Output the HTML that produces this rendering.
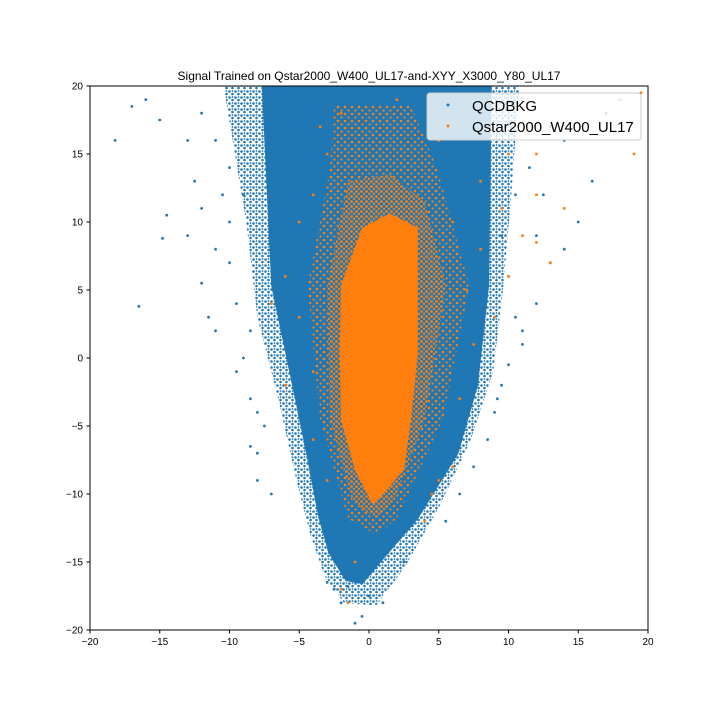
<!DOCTYPE html>
<html><head><meta charset="utf-8"><style>
body{margin:0;background:#fff}
svg{display:block;font-family:"Liberation Sans",sans-serif}
</style></head><body>
<svg id="chart" width="720" height="720" viewBox="0 0 720 720" xmlns="http://www.w3.org/2000/svg">
<rect width="720" height="720" fill="#fff"/>
<text x="369" y="80" text-anchor="middle" font-size="12">Signal Trained on Qstar2000_W400_UL17-and-XYY_X3000_Y80_UL17</text>
<defs>
<clipPath id="clip"><rect x="90" y="86" width="558" height="544"/></clipPath>
<pattern id="orangeSparse" width="7" height="7" patternUnits="userSpaceOnUse">
<rect width="7" height="7" fill="#1f77b4"/>
<circle cx="2" cy="2" r="1.3" fill="#ff7f0e"/>
<circle cx="5.5" cy="5.5" r="1.1" fill="#ff7f0e"/>
</pattern>
<pattern id="orangeDots" width="5" height="5" patternUnits="userSpaceOnUse">
<rect width="5" height="5" fill="#1f77b4"/>
<circle cx="1.5" cy="1.5" r="1.4" fill="#ff7f0e"/>
<circle cx="4" cy="3.8" r="1.2" fill="#ff7f0e"/>
</pattern>
<pattern id="blueDots" width="6" height="6" patternUnits="userSpaceOnUse">
<circle cx="1.5" cy="1.5" r="1.3" fill="#1f77b4"/>
<circle cx="4.5" cy="4" r="1.3" fill="#1f77b4"/>
<circle cx="4.5" cy="1" r="0.9" fill="#1f77b4"/>
</pattern>
</defs>
<g id="plot" clip-path="url(#clip)"></g>
<rect x="90" y="86" width="558" height="544" fill="none" stroke="#000" stroke-width="1"/>
<g id="axes"></g>
<g>
<rect x="427" y="93" width="214" height="47" rx="3" fill="#fff" fill-opacity="0.8" stroke="#ccc"/>
<circle cx="448" cy="105" r="1.5" fill="#1f77b4"/>
<text x="472" y="111" font-size="15">QCDBKG</text>
<circle cx="448" cy="126" r="1.5" fill="#ff7f0e"/>
<text x="472" y="132" font-size="15">Qstar2000_W400_UL17</text>
</g>
</svg>
<script>
const xTicks=[-20,-15,-10,-5,0,5,10,15,20];
const yTicks=[-20,-15,-10,-5,0,5,10,15,20];
// blue sparse outer envelope [x,y]
const bkgFuzz=[[-10.5,20.5],[-8.8,10],[-8,3],[-6.5,-3],[-5.2,-9],[-4.2,-13],[-3.2,-16],[-1.8,-18],[0.5,-18.2],[2.5,-15.5],[5,-11],[7.3,-6],[8.9,-1],[9.6,5],[10.2,12],[10.8,20.5]];
// blue dense envelope [x,y]
const bkgHull=[[-7.6,20.5],[-6.9,5.3],[-5.4,-2],[-4.4,-7],[-3.5,-11.8],[-2.8,-14.3],[-1.6,-16.3],[-0.5,-16.5],[1.3,-14.3],[3.4,-11.8],[6.3,-7],[7.7,-2],[8.5,5.3],[8.7,20.5]];
// orange sparse outer halo
const sigHalo=[[-2.5,18.6],[-2.8,13.9],[-4.4,5.3],[-3.5,-4.5],[-1.5,-11.8],[0.5,-13],[2,-11.8],[5.3,-4.5],[7.2,5.3],[4.9,13.9],[3,18.6]];
// orange medium inner halo
const sigMid=[[-1.5,13],[-3,5.3],[-2.8,-4.5],[-1.2,-10.5],[0.5,-11.8],[1.8,-10.5],[4,-4.5],[5.5,5.3],[4,11.5],[1.5,13.5]];
// orange dense core
const sigCore=[[-0.4,9.5],[-1.9,5.3],[-2.0,0.4],[-1.9,-4.5],[-0.9,-8.2],[-0.2,-9.6],[0.3,-10.6],[1.2,-9.6],[2.4,-8.2],[2.9,-4.5],[3.4,0.4],[3.4,5.3],[3.4,9.5],[1.5,10.5]];
const bkgX=[-18.2,-17,-16.5,-15,-14.5,-14.8,-13,-12,-12,-11.5,-11,-10,-10,-9.5,-9,-8.5,-8,-8,-7,-13,-12,-16,-11,-10.5,-9,-11,-10,-9.5,-8.5,-8.5,16,15,14,13,12,12,11,10.5,10,11.5,13,17,14,9.5,8.5,7.5,6.5,5.5,9.5,10,11,9,-2.5,-1,-0.5,1,-3,2.5,-2,0,-1.5,-8,-7.5,-12.5,12.5,10.5,9.2];
const bkgY=[16,18.5,3.8,17.5,10.5,8.8,9,11,5.5,3,2,7,14,4,0,-6.5,-7,-9,-10,16,18,19,16,12,12,8,10,-1,-3,2,13,10,8,7,9,4,2,12,6,14,17,18,16,-2,-6,-8,-10,-12,9,-0.5,1,-4,-17,-19.5,-19,-18,-16.5,-15,-18,-17.5,-16.8,-4,-5,13,12,3,-3];
const sigX=[19,19.5,18,12,12,11,12,13,10,9,8,-5,-4,-3,-7,-6,-4,-3,-1,-2,-1.5,6,5,4,7,6,5,-2,2,14,10,-5,-6,-4,6.5,7.5,8,9.5,-3.5,4.5];
const sigY=[15,19.5,19,15,12,9,8.5,7,6,3,13,10,12,15,4,-2,-6,-9,-15,-17,-18,-8,-9,-12,5,10,16,18,19,11,15,3,6,-1,-3,1,8,11,17,-10];
const X=v=>369+v*13.95, Y=v=>358-v*13.6;
const NS='http://www.w3.org/2000/svg';
const plot=document.getElementById('plot'), axes=document.getElementById('axes');
function mk(t,a,p){const e=document.createElementNS(NS,t);for(const k in a)e.setAttribute(k,a[k]);p.appendChild(e);return e;}
function poly(pts,fill,stroke,sw,name){
 const e=mk('polygon',{points:pts.map(p=>X(p[0])+','+Y(p[1])).join(' '),fill:fill,stroke:stroke,'stroke-width':sw,'stroke-linejoin':'round'},plot);
 
 
}
poly(bkgFuzz,'url(#blueDots)','none',0,'qcdbkg-sparse-region');
poly(bkgHull,'#1f77b4','#1f77b4',3,'qcdbkg-dense-region');
for(let i=0;i<bkgX.length;i++){
 const c=mk('circle',{cx:X(bkgX[i]),cy:Y(bkgY[i]),r:1.4,fill:'#1f77b4'},plot);
 
 
}
poly(sigHalo,'url(#orangeSparse)','none',0,'qstar-sparse-region');
poly(sigMid,'url(#orangeDots)','none',0,'qstar-medium-region');
poly(sigCore,'#ff7f0e','#ff7f0e',3,'qstar-dense-region');
for(let i=0;i<sigX.length;i++){
 const c=mk('circle',{cx:X(sigX[i]),cy:Y(sigY[i]),r:1.4,fill:'#ff7f0e'},plot);
 
 
}
xTicks.forEach(v=>{
 const l=mk('line',{x1:X(v),x2:X(v),y1:630,y2:633.5,stroke:'#000'},axes);
 
 
 const t=mk('text',{x:X(v),y:645,'text-anchor':'middle','font-size':10},axes);
 t.textContent=v<0?'\u2212'+(-v):v;
 
 
});
yTicks.forEach(v=>{
 const l=mk('line',{x1:86.5,x2:90,y1:Y(v),y2:Y(v),stroke:'#000'},axes);
 
 
 const t=mk('text',{x:83,y:Y(v)+3.5,'text-anchor':'end','font-size':10},axes);
 t.textContent=v<0?'\u2212'+(-v):v;
 
 
});
</script>
</body></html>
